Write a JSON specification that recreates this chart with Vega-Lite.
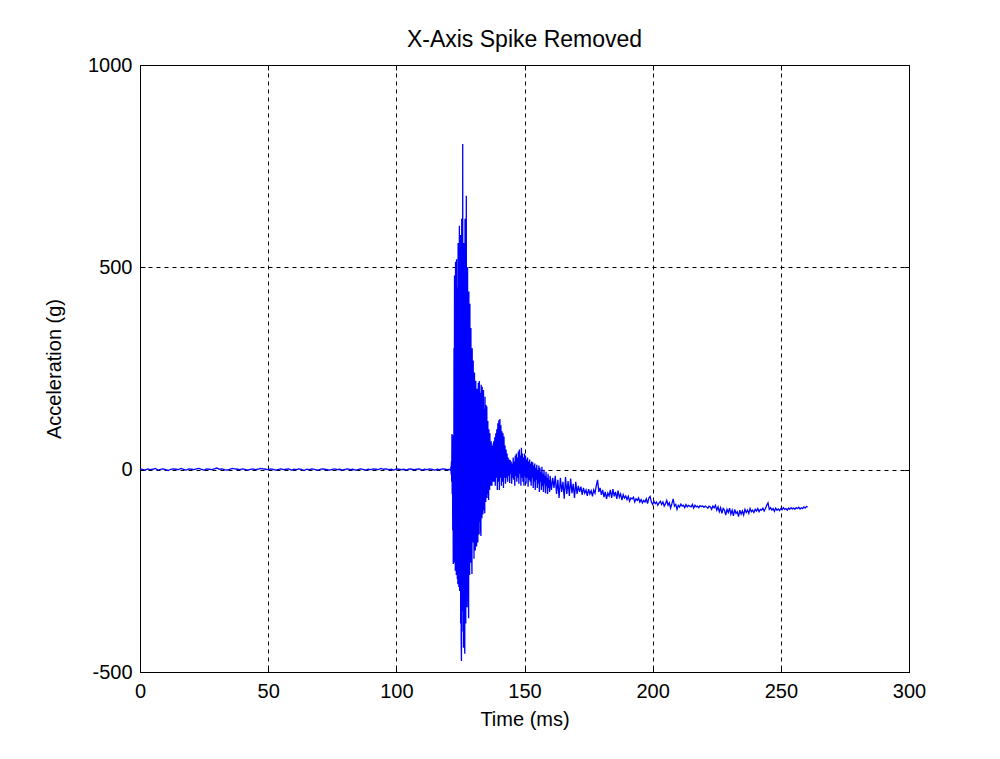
{
  "$schema": "https://vega.github.io/schema/vega-lite/v6.json",
  "width": 769,
  "height": 607,
  "autosize": {"type": "none"},
  "padding": {"left": 140, "top": 65, "right": 91, "bottom": 87},
  "background": "white",
  "title": {"text": "X-Axis Spike Removed", "font": "Liberation Sans", "fontSize": 23, "fontWeight": "normal", "color": "black", "anchor": "middle", "offset": 3},
  "config": {
    "view": {"stroke": "black", "strokeWidth": 1},
    "axis": {"labelFont": "Liberation Sans", "titleFont": "Liberation Sans", "labelFontSize": 20, "titleFontSize": 20, "titleFontWeight": "normal", "labelColor": "black", "titleColor": "black", "domainColor": "black", "tickColor": "black", "gridColor": "black", "gridOpacity": 1, "gridDash": [4, 4], "gridWidth": 1, "tickSize": -5}
  },
  "data": {"values": [
{"t":0,"a":2},{"t":1,"a":1},{"t":2,"a":-1},{"t":3,"a":2},{"t":4,"a":0},{"t":5,"a":1},{"t":6,"a":3},{"t":7,"a":-1},{"t":8,"a":1},{"t":9,"a":2},
{"t":10,"a":0},{"t":11,"a":-2},{"t":12,"a":1},{"t":13,"a":2},{"t":14,"a":1},{"t":15,"a":0},{"t":16,"a":3},{"t":17,"a":1},{"t":18,"a":-1},{"t":19,"a":2},
{"t":20,"a":1},{"t":21,"a":0},{"t":22,"a":2},{"t":23,"a":3},{"t":24,"a":1},{"t":25,"a":-1},{"t":26,"a":2},{"t":27,"a":1},{"t":28,"a":0},{"t":29,"a":2},
{"t":30,"a":4},{"t":31,"a":1},{"t":32,"a":2},{"t":33,"a":0},{"t":34,"a":-1},{"t":35,"a":1},{"t":36,"a":3},{"t":37,"a":2},{"t":38,"a":1},{"t":39,"a":0},
{"t":40,"a":2},{"t":41,"a":1},{"t":42,"a":-1},{"t":43,"a":1},{"t":44,"a":2},{"t":45,"a":0},{"t":46,"a":1},{"t":47,"a":3},{"t":48,"a":2},{"t":49,"a":1},
{"t":50,"a":0},{"t":51,"a":2},{"t":52,"a":1},{"t":53,"a":-1},{"t":54,"a":1},{"t":55,"a":2},{"t":56,"a":0},{"t":57,"a":1},{"t":58,"a":2},{"t":59,"a":-1},
{"t":60,"a":1},{"t":61,"a":0},{"t":62,"a":2},{"t":63,"a":1},{"t":64,"a":-2},{"t":65,"a":1},{"t":66,"a":0},{"t":67,"a":2},{"t":68,"a":1},{"t":69,"a":-1},
{"t":70,"a":0},{"t":71,"a":2},{"t":72,"a":1},{"t":73,"a":0},{"t":74,"a":-1},{"t":75,"a":1},{"t":76,"a":2},{"t":77,"a":0},{"t":78,"a":1},{"t":79,"a":-1},
{"t":80,"a":1},{"t":81,"a":2},{"t":82,"a":0},{"t":83,"a":1},{"t":84,"a":-1},{"t":85,"a":0},{"t":86,"a":2},{"t":87,"a":1},{"t":88,"a":-1},{"t":89,"a":1},
{"t":90,"a":0},{"t":91,"a":2},{"t":92,"a":1},{"t":93,"a":0},{"t":94,"a":3},{"t":95,"a":1},{"t":96,"a":2},{"t":97,"a":0},{"t":98,"a":1},{"t":99,"a":-1},
{"t":100,"a":2},{"t":101,"a":1},{"t":102,"a":0},{"t":103,"a":1},{"t":104,"a":-1},{"t":105,"a":2},{"t":106,"a":1},{"t":107,"a":0},{"t":108,"a":1},{"t":109,"a":2},
{"t":110,"a":-1},{"t":111,"a":1},{"t":112,"a":0},{"t":113,"a":2},{"t":114,"a":1},{"t":115,"a":-1},{"t":116,"a":1},{"t":117,"a":0},{"t":118,"a":2},{"t":119,"a":1},
{"t":120,"a":0},{"t":121,"a":1},
{"t":121.2,"a":-3},{"t":121.3,"a":8},{"t":121.4,"a":-12},{"t":121.5,"a":20},{"t":121.6,"a":-30},{"t":121.7,"a":88},{"t":121.8,"a":-60},{"t":121.9,"a":70},
{"t":122.0,"a":-150},{"t":122.1,"a":85},{"t":122.2,"a":-233},{"t":122.3,"a":60},{"t":122.4,"a":-200},{"t":122.5,"a":300},{"t":122.6,"a":-230},{"t":122.7,"a":480},{"t":122.8,"a":-180},{"t":122.9,"a":420},
{"t":123.0,"a":-250},{"t":123.1,"a":514},{"t":123.2,"a":-150},{"t":123.3,"a":380},{"t":123.4,"a":-260},{"t":123.5,"a":520},{"t":123.6,"a":-200},{"t":123.7,"a":450},{"t":123.8,"a":-270},{"t":123.9,"a":300},
{"t":124.0,"a":-283},{"t":124.1,"a":560},{"t":124.2,"a":-220},{"t":124.3,"a":480},{"t":124.4,"a":-290},{"t":124.5,"a":350},{"t":124.6,"a":603},{"t":124.7,"a":-300},{"t":124.8,"a":520},{"t":124.9,"a":-250},
{"t":125.0,"a":580},{"t":125.1,"a":-380},{"t":125.2,"a":450},{"t":125.3,"a":-420},{"t":125.4,"a":-473},{"t":125.5,"a":620},{"t":125.6,"a":-350},{"t":125.7,"a":500},{"t":125.8,"a":-300},{"t":125.9,"a":805},
{"t":126.0,"a":-400},{"t":126.1,"a":420},{"t":126.2,"a":-440},{"t":126.3,"a":560},{"t":126.4,"a":-300},{"t":126.5,"a":380},{"t":126.6,"a":-420},{"t":126.7,"a":-455},{"t":126.8,"a":620},{"t":126.9,"a":-330},
{"t":127.0,"a":480},{"t":127.1,"a":-380},{"t":127.2,"a":350},{"t":127.3,"a":677},{"t":127.4,"a":-300},{"t":127.5,"a":420},{"t":127.6,"a":-340},{"t":127.7,"a":300},{"t":127.8,"a":500},{"t":127.9,"a":-250},
{"t":128.0,"a":380},{"t":128.1,"a":-300},{"t":128.2,"a":-367},{"t":128.3,"a":440},{"t":128.4,"a":-200},{"t":128.5,"a":320},{"t":128.6,"a":-260},{"t":128.7,"a":410},{"t":128.8,"a":-180},{"t":128.9,"a":300},
{"t":129.0,"a":-230},{"t":129.1,"a":350},{"t":129.2,"a":-150},{"t":129.3,"a":260},{"t":129.4,"a":-200},{"t":129.5,"a":-258},{"t":129.6,"a":300},{"t":129.7,"a":-120},{"t":129.8,"a":220},{"t":129.9,"a":-180},
{"t":130.0,"a":270},{"t":130.1,"a":-140},{"t":130.2,"a":200},{"t":130.3,"a":-220},{"t":130.4,"a":180},{"t":130.5,"a":240},{"t":130.6,"a":-160},{"t":130.7,"a":150},{"t":130.8,"a":-200},{"t":130.9,"a":190},
{"t":131.0,"a":220},{"t":131.1,"a":-120},{"t":131.2,"a":160},{"t":131.3,"a":-190},{"t":131.4,"a":140},{"t":131.5,"a":200},{"t":131.6,"a":-150},{"t":131.7,"a":120},{"t":131.8,"a":-180},{"t":131.9,"a":180},
{"t":132.0,"a":215},{"t":132.1,"a":-100},{"t":132.2,"a":150},{"t":132.3,"a":-160},{"t":132.4,"a":219},{"t":132.5,"a":-130},{"t":132.6,"a":170},{"t":132.7,"a":-90},{"t":132.8,"a":190},{"t":132.9,"a":-150},
{"t":133.0,"a":-164},{"t":133.1,"a":210},{"t":133.2,"a":-80},{"t":133.3,"a":160},{"t":133.4,"a":-120},{"t":133.5,"a":205},{"t":133.6,"a":-60},{"t":133.7,"a":140},{"t":133.8,"a":-110},{"t":133.9,"a":170},
{"t":134.0,"a":197},{"t":134.1,"a":-70},{"t":134.2,"a":120},{"t":134.3,"a":-100},{"t":134.4,"a":150},{"t":134.5,"a":-108},{"t":134.6,"a":180},{"t":134.7,"a":-50},{"t":134.8,"a":130},{"t":134.9,"a":-80},
{"t":135.0,"a":160},{"t":135.1,"a":-40},{"t":135.2,"a":110},{"t":135.3,"a":156},{"t":135.4,"a":-70},{"t":135.5,"a":90},{"t":135.6,"a":-30},{"t":135.7,"a":120},{"t":135.8,"a":-60},{"t":135.9,"a":80},
{"t":136.0,"a":-75},{"t":136.1,"a":100},{"t":136.2,"a":-20},{"t":136.3,"a":60},{"t":136.4,"a":-50},{"t":136.5,"a":90},{"t":136.6,"a":-30},{"t":136.7,"a":70},{"t":136.8,"a":-40},{"t":136.9,"a":50},
{"t":137.0,"a":70},{"t":137.1,"a":-20},{"t":137.2,"a":40},{"t":137.3,"a":-40},{"t":137.4,"a":60},{"t":137.5,"a":-10},{"t":137.6,"a":50},{"t":137.7,"a":-30},{"t":137.8,"a":65},{"t":137.9,"a":-20},
{"t":138.0,"a":70},{"t":138.2,"a":-30},{"t":138.4,"a":80},{"t":138.6,"a":-40},{"t":138.8,"a":90},{"t":139.0,"a":-20},{"t":139.2,"a":100},{"t":139.4,"a":-50},{"t":139.6,"a":115},{"t":139.8,"a":-30},
{"t":140.0,"a":122},{"t":140.2,"a":-50},{"t":140.4,"a":125},{"t":140.6,"a":-20},{"t":140.8,"a":110},{"t":141.0,"a":-40},{"t":141.2,"a":95},{"t":141.4,"a":-30},{"t":141.6,"a":90},{"t":141.8,"a":-45},
{"t":142.0,"a":82},{"t":142.2,"a":-20},{"t":142.4,"a":60},{"t":142.6,"a":-35},{"t":142.8,"a":50},{"t":143.0,"a":-20},{"t":143.2,"a":40},{"t":143.4,"a":-30},{"t":143.6,"a":30},{"t":143.8,"a":-15},
{"t":144.0,"a":25},{"t":144.2,"a":-33},{"t":144.4,"a":24},{"t":144.6,"a":-10},{"t":144.8,"a":20},{"t":145.0,"a":-35},{"t":145.2,"a":15},{"t":145.4,"a":-20},{"t":145.6,"a":30},{"t":145.8,"a":-25},
{"t":146.0,"a":20},{"t":146.2,"a":-40},{"t":146.4,"a":35},{"t":146.6,"a":-15},{"t":146.8,"a":40},{"t":147.0,"a":-30},{"t":147.2,"a":30},{"t":147.4,"a":-20},{"t":147.6,"a":45},{"t":147.8,"a":-35},
{"t":148.0,"a":50},{"t":148.2,"a":-10},{"t":148.4,"a":35},{"t":148.6,"a":-40},{"t":148.8,"a":54},{"t":149.0,"a":-20},{"t":149.2,"a":40},{"t":149.4,"a":-30},{"t":149.6,"a":30},{"t":149.8,"a":-40},
{"t":150.0,"a":40},{"t":150.2,"a":-15},{"t":150.4,"a":35},{"t":150.6,"a":-35},{"t":150.8,"a":25},{"t":151.0,"a":-20},{"t":151.2,"a":30},{"t":151.4,"a":-42},{"t":151.6,"a":20},{"t":151.8,"a":-25},
{"t":152.0,"a":25},{"t":152.2,"a":-30},{"t":152.4,"a":15},{"t":152.6,"a":-40},{"t":152.8,"a":20},{"t":153.0,"a":-20},{"t":153.2,"a":18},{"t":153.4,"a":-45},{"t":153.6,"a":10},{"t":153.8,"a":-30},
{"t":154.0,"a":15},{"t":154.2,"a":-50},{"t":154.4,"a":5},{"t":154.6,"a":-25},{"t":154.8,"a":12},{"t":155.0,"a":-45},{"t":155.2,"a":0},{"t":155.4,"a":-35},{"t":155.6,"a":10},{"t":155.8,"a":-55},
{"t":156.0,"a":5},{"t":156.2,"a":-30},{"t":156.4,"a":-5},{"t":156.6,"a":-50},{"t":156.8,"a":7},{"t":157.0,"a":-40},{"t":157.2,"a":-10},{"t":157.4,"a":-55},{"t":157.6,"a":0},{"t":157.8,"a":-35},
{"t":158.0,"a":-15},{"t":158.2,"a":-58},{"t":158.4,"a":-5},{"t":158.6,"a":-40},{"t":158.8,"a":-20},{"t":159.0,"a":-60},{"t":159.2,"a":-10},{"t":159.4,"a":-45},{"t":159.6,"a":-25},{"t":159.8,"a":-55},
{"t":160.0,"a":-15},{"t":160.5,"a":-50},{"t":161.0,"a":-20},{"t":161.5,"a":-45},{"t":162.0,"a":-15},{"t":162.5,"a":-60},{"t":163.0,"a":-25},{"t":163.5,"a":-70},{"t":164.0,"a":-20},{"t":164.5,"a":-55},
{"t":165.0,"a":-30},{"t":165.5,"a":-72},{"t":166.0,"a":-18},{"t":166.5,"a":-60},{"t":167.0,"a":-28},{"t":167.5,"a":-65},{"t":168.0,"a":-22},{"t":168.5,"a":-58},{"t":169.0,"a":-35},{"t":169.5,"a":-70},
{"t":170.0,"a":-30},{"t":170.5,"a":-60},{"t":171.0,"a":-40},{"t":171.5,"a":-55},{"t":172.0,"a":-42},{"t":172.5,"a":-62},{"t":173.0,"a":-45},{"t":173.5,"a":-58},{"t":174.0,"a":-50},{"t":174.5,"a":-65},
{"t":175.0,"a":-48},{"t":175.5,"a":-60},{"t":176.0,"a":-52},{"t":176.5,"a":-66},{"t":177.0,"a":-50},{"t":177.5,"a":-58},{"t":178.0,"a":-40},{"t":178.5,"a":-25},{"t":179.0,"a":-55},{"t":179.5,"a":-45},
{"t":180.0,"a":-62},{"t":180.5,"a":-50},{"t":181.0,"a":-68},{"t":181.5,"a":-55},{"t":182.0,"a":-72},{"t":182.5,"a":-58},{"t":183.0,"a":-65},{"t":183.5,"a":-50},{"t":184.0,"a":-70},{"t":184.5,"a":-48},
{"t":185.0,"a":-66},{"t":185.5,"a":-55},{"t":186.0,"a":-72},{"t":186.5,"a":-52},{"t":187.0,"a":-68},{"t":187.5,"a":-60},{"t":188.0,"a":-75},{"t":188.5,"a":-62},{"t":189.0,"a":-70},{"t":189.5,"a":-65},
{"t":190.0,"a":-74},{"t":190.5,"a":-66},{"t":191.0,"a":-78},{"t":191.5,"a":-70},{"t":192.0,"a":-72},{"t":192.5,"a":-68},{"t":193.0,"a":-80},{"t":193.5,"a":-72},{"t":194.0,"a":-76},{"t":194.5,"a":-70},
{"t":195.0,"a":-80},{"t":195.5,"a":-74},{"t":196.0,"a":-82},{"t":196.5,"a":-76},{"t":197.0,"a":-80},{"t":197.5,"a":-72},{"t":198.0,"a":-84},{"t":198.5,"a":-70},{"t":199.0,"a":-66},{"t":199.5,"a":-80},
{"t":200.0,"a":-86},{"t":200.5,"a":-78},{"t":201.0,"a":-84},{"t":201.5,"a":-80},{"t":202.0,"a":-88},{"t":202.5,"a":-82},{"t":203.0,"a":-78},{"t":203.5,"a":-86},{"t":204.0,"a":-80},{"t":204.5,"a":-90},
{"t":205.0,"a":-84},{"t":205.5,"a":-76},{"t":206.0,"a":-88},{"t":206.5,"a":-82},{"t":207.0,"a":-95},{"t":207.5,"a":-84},{"t":208.0,"a":-72},{"t":208.5,"a":-90},{"t":209.0,"a":-86},{"t":209.5,"a":-98},
{"t":210.0,"a":-88},{"t":210.5,"a":-92},{"t":211.0,"a":-85},{"t":211.5,"a":-90},{"t":212.0,"a":-88},{"t":212.5,"a":-94},{"t":213.0,"a":-86},{"t":213.5,"a":-92},{"t":214.0,"a":-88},{"t":214.5,"a":-90},
{"t":215.0,"a":-92},{"t":215.5,"a":-86},{"t":216.0,"a":-95},{"t":216.5,"a":-88},{"t":217.0,"a":-92},{"t":217.5,"a":-90},{"t":218.0,"a":-94},{"t":218.5,"a":-89},{"t":219.0,"a":-91},{"t":219.5,"a":-90},
{"t":220.0,"a":-93},{"t":220.5,"a":-90},{"t":221.0,"a":-92},{"t":221.5,"a":-95},{"t":222.0,"a":-90},{"t":222.5,"a":-92},{"t":223.0,"a":-98},{"t":223.5,"a":-90},{"t":224.0,"a":-94},{"t":224.5,"a":-88},
{"t":225.0,"a":-100},{"t":225.5,"a":-92},{"t":226.0,"a":-104},{"t":226.5,"a":-94},{"t":227.0,"a":-108},{"t":227.5,"a":-96},{"t":228.0,"a":-100},{"t":228.5,"a":-112},{"t":229.0,"a":-98},{"t":229.5,"a":-106},
{"t":230.0,"a":-95},{"t":230.5,"a":-110},{"t":231.0,"a":-100},{"t":231.5,"a":-114},{"t":232.0,"a":-98},{"t":232.5,"a":-108},{"t":233.0,"a":-104},{"t":233.5,"a":-116},{"t":234.0,"a":-100},{"t":234.5,"a":-110},
{"t":235.0,"a":-102},{"t":235.5,"a":-112},{"t":236.0,"a":-98},{"t":236.5,"a":-106},{"t":237.0,"a":-100},{"t":237.5,"a":-108},{"t":238.0,"a":-96},{"t":238.5,"a":-104},{"t":239.0,"a":-100},{"t":239.5,"a":-106},
{"t":240.0,"a":-98},{"t":240.5,"a":-102},{"t":241.0,"a":-96},{"t":241.5,"a":-104},{"t":242.0,"a":-98},{"t":242.5,"a":-100},{"t":243.0,"a":-95},{"t":243.5,"a":-102},{"t":244.0,"a":-96},{"t":244.5,"a":-88},
{"t":245.0,"a":-82},{"t":245.5,"a":-98},{"t":246.0,"a":-94},{"t":246.5,"a":-100},{"t":247.0,"a":-96},{"t":247.5,"a":-103},{"t":248.0,"a":-95},{"t":248.5,"a":-100},{"t":249.0,"a":-97},{"t":249.5,"a":-101},
{"t":250.0,"a":-96},{"t":250.5,"a":-99},{"t":251.0,"a":-94},{"t":251.5,"a":-98},{"t":252.0,"a":-96},{"t":252.5,"a":-100},{"t":253.0,"a":-95},{"t":253.5,"a":-98},{"t":254.0,"a":-94},{"t":254.5,"a":-97},
{"t":255.0,"a":-95},{"t":255.5,"a":-98},{"t":256.0,"a":-94},{"t":256.5,"a":-96},{"t":257.0,"a":-93},{"t":257.5,"a":-97},{"t":258.0,"a":-94},{"t":258.5,"a":-96},{"t":259.0,"a":-92},{"t":259.5,"a":-95},
{"t":260.0,"a":-91},{"t":260.5,"a":-92}
  ]},
  "layer": [
    {
      "mark": {"type": "line", "color": "#0000ff", "strokeWidth": 1.3, "clip": true},
      "encoding": {
        "x": {"field": "t", "type": "quantitative", "scale": {"domain": [0, 300], "nice": false, "zero": false},
              "axis": {"title": "Time (ms)", "values": [0, 50, 100, 150, 200, 250, 300], "grid": true, "labelPadding": 14, "titlePadding": 8, "labelFlush": false, "labelOverlap": false}},
        "y": {"field": "a", "type": "quantitative", "scale": {"domain": [-500, 1000], "nice": false, "zero": false},
              "axis": {"title": "Acceleration (g)", "values": [-500, 0, 500, 1000], "grid": true, "labelPadding": 13, "titlePadding": 23, "labelExpr": "'' + datum.value", "labelFlush": false, "labelOverlap": false}}
      }
    },
    {
      "mark": {"type": "point", "opacity": 0},
      "encoding": {
        "x": {"field": "t", "type": "quantitative", "axis": {"orient": "top", "title": null, "labels": false, "grid": false, "domain": false, "values": [0, 50, 100, 150, 200, 250, 300]}},
        "y": {"field": "a", "type": "quantitative", "axis": {"orient": "right", "title": null, "labels": false, "grid": false, "domain": false, "values": [-500, 0, 500, 1000]}}
      }
    }
  ],
  "resolve": {"axis": {"x": "independent", "y": "independent"}}
}
